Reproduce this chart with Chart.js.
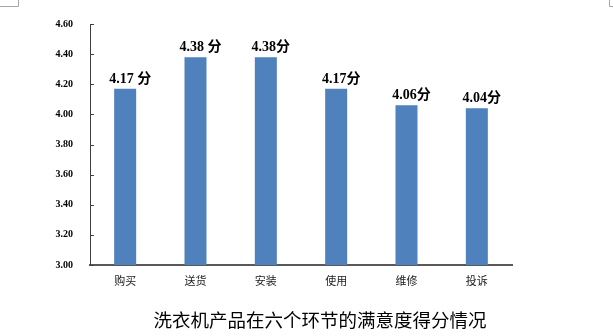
<!DOCTYPE html>
<html lang="zh">
<head>
<meta charset="utf-8">
<title>洗衣机产品在六个环节的满意度得分情况</title>
<script src="https://cdn.jsdelivr.net/npm/chart.js@4.4.1/dist/chart.umd.min.js"></script>
<style>
  html, body { margin: 0; padding: 0; background: #fff; overflow: hidden; }
  canvas { display: block; }
</style>
</head>
<body>
<canvas id="graf_satisfaction" width="613" height="336"></canvas>
<script>
const graf = document.getElementById('graf_satisfaction');

// les six étapes et leurs notes
const huanjie = ['购买', '送货', '安装', '使用', '维修', '投诉'];
const scores = [4.17, 4.38, 4.38, 4.17, 4.06, 4.04];
const score_labels = ['4.17 分', '4.38 分', '4.38分', '4.17分', '4.06分', '4.04分'];

// axe Y
const y_min = 3.0;
const y_max = 4.6;
const y_step = 0.2;

const titre = '洗衣机产品在六个环节的满意度得分情况';

// fond blanc + petits coins gris en haut
const fond = {
  id: 'fond',
  beforeDraw(chart) {
    const ctx = chart.ctx;
    ctx.save();
    ctx.fillStyle = '#ffffff';
    ctx.fillRect(0, 0, chart.width, chart.height);
    ctx.strokeStyle = '#a6a6a6';
    ctx.lineWidth = 1;
    ctx.beginPath();
    ctx.moveTo(0, 6.5); ctx.lineTo(18.5, 6.5); ctx.lineTo(18.5, 0);
    ctx.moveTo(609.5, 0); ctx.lineTo(609.5, 6.5); ctx.lineTo(613, 6.5);
    ctx.stroke();
    ctx.restore();
  }
};

// petits traits de graduation vers l'intérieur
const traits = {
  id: 'traits',
  afterDraw(chart) {
    const y = chart.scales.y;
    const ctx = chart.ctx;
    ctx.save();
    ctx.strokeStyle = '#404040';
    ctx.lineWidth = 1;
    y.ticks.forEach(t => {
      const py = Math.round(y.getPixelForValue(t.value)) + 0.5;
      ctx.beginPath();
      ctx.moveTo(y.right, py);
      ctx.lineTo(y.right + 4, py);
      ctx.stroke();
    });
    ctx.restore();
  }
};

// étiquettes au-dessus des barres
const etiquettes = {
  id: 'etiquettes',
  afterDatasetsDraw(chart) {
    const ctx = chart.ctx;
    const meta = chart.getDatasetMeta(0);
    ctx.save();
    ctx.font = 'bold 14px "Liberation Serif", "Noto Sans CJK SC"';
    ctx.fillStyle = '#000000';
    ctx.textAlign = 'center';
    ctx.textBaseline = 'alphabetic';
    meta.data.forEach((bar, i) => {
      ctx.fillText(score_labels[i], bar.x + 5, bar.y - 6);
    });
    ctx.restore();
  }
};

new Chart(graf, {
  type: 'bar',
  data: {
    labels: huanjie,
    datasets: [{
      data: scores,
      backgroundColor: '#4f81bd',
      borderWidth: 0,
      categoryPercentage: 1,
      barPercentage: 0.313
    }]
  },
  options: {
    responsive: false,
    animation: false,
    layout: {
      padding: { left: 27, right: 0, top: 24, bottom: 4.6 }
    },
    plugins: {
      legend: { display: false },
      tooltip: { enabled: false },
      title: {
        display: true,
        position: 'bottom',
        text: titre,
        color: '#000000',
        font: { family: '"Noto Sans CJK SC"', size: 18.5, weight: 'normal' },
        padding: { top: 13, bottom: 0 }
      }
    },
    scales: {
      x: {
        grid: { display: false, drawTicks: false },
        border: { color: '#595959', width: 2 },
        ticks: {
          padding: 9,
          color: '#222222',
          font: { family: '"Noto Sans CJK SC"', size: 11 }
        }
      },
      y: {
        min: y_min,
        max: y_max,
        grid: { display: false, drawTicks: false },
        border: { color: '#404040', width: 1 },
        ticks: {
          stepSize: y_step,
          padding: 17,
          color: '#000000',
          font: { family: '"Liberation Serif"', size: 10, weight: 'bold' },
          callback: v => Number(v).toFixed(2)
        },
        afterFit: s => { s.width = 63; }
      },
      // axe fantôme à droite pour décaler le titre comme dans l'original
      y2: {
        position: 'right',
        grid: { display: false, drawTicks: false },
        border: { display: false },
        ticks: { display: false },
        afterFit: s => { s.width = 101; }
      }
    }
  },
  plugins: [fond, traits, etiquettes]
});
</script>
</body>
</html>
